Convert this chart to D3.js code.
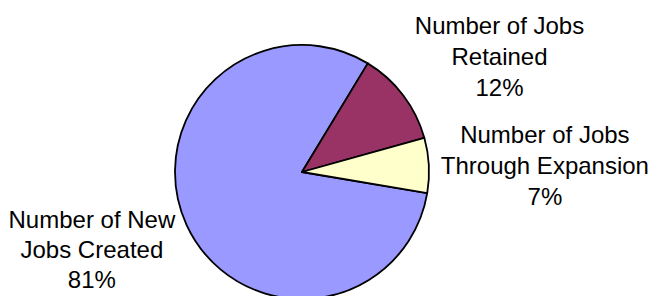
<!DOCTYPE html>
<html>
<head>
<meta charset="utf-8">
<script src="https://cdn.jsdelivr.net/npm/d3@7"></script>
<style>
  body { margin: 0; background: #fff; }
  svg { display: block; }
  text { font-family: "Liberation Sans", Arial, sans-serif; font-size: 24px; fill: #000; }
</style>
</head>
<body>
<div id="viz"></div>
<script>
// slice data, in drawing order (clockwise)
var categories = ['Number of New Jobs Created', 'Number of Jobs Retained', 'Number of Jobs Through Expansion'];
var shares = [81, 12, 7];
var labelLines = [
  ['Number of New', 'Jobs Created', '81%'],
  ['Number of Jobs', 'Retained', '12%'],
  ['Number of Jobs', 'Through Expansion', '7%']
];
var colours = ['#9999FF', '#993366', '#FFFFCC'];

// chart size
var width = 655, height = 296;
var cx = 302, cy = 172, radius = 127;

var svg = d3.select('#viz').append('svg')
  .attr('width', width)
  .attr('height', height);

var chart = svg.append('g')
  .attr('transform', 'translate(' + cx + ',' + cy + ')');

// first slice starts a little past 3 o'clock
var pie = d3.pie()
  .sort(null)
  .value(function(d) { return d; })
  .startAngle(99.6 * Math.PI / 180)
  .endAngle(99.6 * Math.PI / 180 + 2 * Math.PI);

var arc = d3.arc().innerRadius(0).outerRadius(radius);

var slices = pie(shares);

chart.selectAll('path.slice')
  .data(slices)
  .enter()
  .append('path')
  .attr('class', 'slice')
  .attr('d', arc)
  .attr('fill', function(d, i) { return colours[i]; })
  .attr('stroke', '#000')
  .attr('stroke-width', 1.8)
  .attr('stroke-linejoin', 'round');

// label placement: distance from centre and a small angle nudge per label
var labelPos = [
  { r: 226, nudge: 3.0, dy: -27, gap: 30 },
  { r: 229, nudge: 6.8, dy: -22, gap: 31 },
  { r: 243, nudge: 1.3, dy: -22, gap: 31 }
];

slices.forEach(function(d, i) {
  var mid = (d.startAngle + d.endAngle) / 2 + labelPos[i].nudge * Math.PI / 180;
  var x = Math.sin(mid) * labelPos[i].r;
  var y = -Math.cos(mid) * labelPos[i].r;
  var t = chart.append('text')
    .attr('text-anchor', 'middle')
    .attr('x', x)
    .attr('y', y + labelPos[i].dy);
  labelLines[i].forEach(function(line, k) {
    t.append('tspan')
      .attr('x', x)
      .attr('y', y + labelPos[i].dy + k * labelPos[i].gap)
      .text(line);
  });
});
</script>
</body>
</html>
